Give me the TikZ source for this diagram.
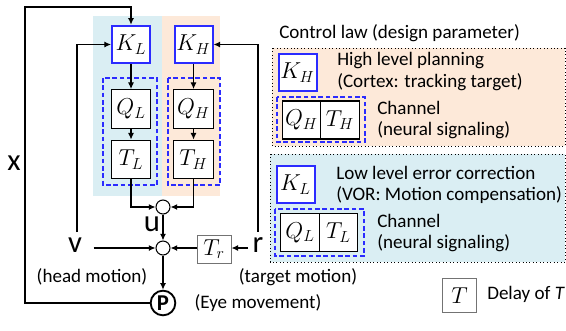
\documentclass[tikz,border=0pt]{standalone}
\usepackage{fontspec}
\setmainfont{Carlito}
\usetikzlibrary{arrows.meta,calc}
\definecolor{lblue}{HTML}{DAEEF3}
\definecolor{lorange}{HTML}{FDE9D9}
\definecolor{kblue}{HTML}{2B2BFF}
\begin{document}
\begin{tikzpicture}[x=0.75pt,y=-0.75pt,
  kbox/.style={draw=kblue,line width=1.5pt,fill=white,minimum width=28.5pt,minimum height=28pt,inner sep=0pt,font=\fontsize{17}{20}\selectfont},
  qbox/.style={draw=black,line width=0.9pt,fill=white,minimum width=29.5pt,minimum height=29pt,inner sep=0pt,font=\fontsize{17}{20}\selectfont},
  gbox/.style={draw=black!55,line width=0.7pt,fill=white,inner sep=0pt,font=\fontsize{17}{20}\selectfont},
  dashblue/.style={draw=kblue,line width=1.4pt,dash pattern=on 3.5pt off 2pt},
  sumc/.style={circle,draw=black,line width=0.8pt,fill=white,minimum size=10.5pt,inner sep=0pt},
  pc/.style={circle,draw=black,line width=1.4pt,fill=white,minimum size=18.5pt,inner sep=0pt,font=\fontsize{17}{20}\selectfont\bfseries},
  big/.style={inner sep=1pt,font=\fontsize{23}{25}\selectfont},
  txt/.style={inner sep=0pt,font=\fontsize{14.3}{16}\selectfont},
  arr/.style={-{Latex[length=5pt,width=4.5pt]},line width=0.8pt},
  farr/.style={-{Latex[length=5pt,width=4.5pt]},line width=1.4pt},
  dotbox/.style={draw=black,dotted,line width=0.6pt}
]
\useasboundingbox (0,0) rectangle (566,330);
% backgrounds
\fill[lblue] (93,16) rectangle (162,196);
\fill[lorange] (162,16) rectangle (220,196);
% dashed channel boxes
\draw[dashblue] (103,78) rectangle (157,185);
\draw[dashblue] (168,78) rectangle (220,185);
% main blocks
\node[kbox] (KL) at (131,44.5) {$K_L$};
\node[kbox] (KH) at (193.5,44.5) {$K_H$};
\node[qbox] (QL) at (131,109) {$Q_L$};
\node[qbox] (TL) at (131,159.5) {$T_L$};
\node[qbox] (QH) at (193.5,109) {$Q_H$};
\node[qbox] (TH) at (193.5,159.5) {$T_H$};
\node[sumc] (S1) at (163,207) {};
\node[sumc] (S2) at (163,248) {};
\node[pc] (P) at (163,303) {P};
\node[gbox,minimum width=25.5pt,minimum height=21pt] (Tr) at (214,249) {$T_r$};
% labels
\node[big] (x) at (14,163) {x};
\node[big] (v) at (75,245) {v};
\node[big] (r) at (258,245) {r};
\node[big] (u) at (152,224) {u};
\node[txt] (hm) at (92,277) {(head motion)};
\node[txt] (tm) at (298,277) {(target motion)};
\node[txt] (em) at (258,303) {(Eye movement)};
\coordinate (c1) at (25,7);
% connectors
\draw[arr] (KL) -- (QL);
\draw[arr] (QL) -- (TL);
\draw[arr] (KH) -- (QH);
\draw[arr] (QH) -- (TH);
\draw[arr] (TL.south) |- (S1.west);
\draw[arr] (TH.south) |- (S1.east);
\draw[arr] (S1) -- (S2);
\draw[arr] (S2) -- (P);
\draw[arr] (Tr.west |- S2) -- (S2.east);
\draw[arr] ($(r.west |- S2)+(-3,0)$) -- (Tr.east |- S2);
\draw[arr] ($(v.east |- S2)+(10,0)$) -- (S2.west);
\draw[arr] ($(v.north)+(2,-4)$) |- (KL.west);
\draw[arr] ($(r.north)+(0,-4)$) |- (KH.east);
\draw[farr] (P.west) -| (c1) -| (KL.north);
% legend
\node[txt,anchor=west] (cl) at (279,33) {Control law (design parameter)};
\draw[dotbox,fill=lorange] (272,48) rectangle (565,146);
\node[kbox] (KH2) at (297.5,72.5) {$K_H$};
\node[txt,anchor=west] (hl1) at (337,61) {High level planning};
\node[txt,anchor=west] (hl2) at (337,82) {(Cortex: tracking target)};
\draw[dashblue] (277,97) rectangle (365,142);
\node[qbox,minimum width=29pt,minimum height=28.5pt] (QH2) at (301.5,120) {$Q_H$};
\node[qbox,minimum width=29pt,minimum height=28.5pt] (TH2) at (340,120) {$T_H$};
\node[txt,anchor=west] (ch1) at (377,108) {Channel};
\node[txt,anchor=west] (ch2) at (377,130) {(neural signaling)};
\draw[dotbox,fill=lblue] (270,154) rectangle (565,262);
\node[kbox] (KL2) at (295.5,184.5) {$K_L$};
\node[txt,anchor=west] (ll1) at (336,173) {Low level error correction};
\node[txt,anchor=west] (ll2) at (336,195) {(VOR: Motion compensation)};
\draw[dashblue] (275,209) rectangle (364,256);
\node[qbox,minimum width=29pt,minimum height=29pt] (QL2) at (300,232.5) {$Q_L$};
\node[qbox,minimum width=29pt,minimum height=29pt] (TL2) at (338.5,232.5) {$T_L$};
\node[txt,anchor=west] (ch3) at (377,221) {Channel};
\node[txt,anchor=west] (ch4) at (377,243) {(neural signaling)};
\node[gbox,minimum width=26pt,minimum height=26pt] (Tleg) at (459.5,295.5) {$T$};
\node[txt,anchor=west] (dl) at (487,294) {Delay of \textit{T}};
\end{tikzpicture}
\end{document}
